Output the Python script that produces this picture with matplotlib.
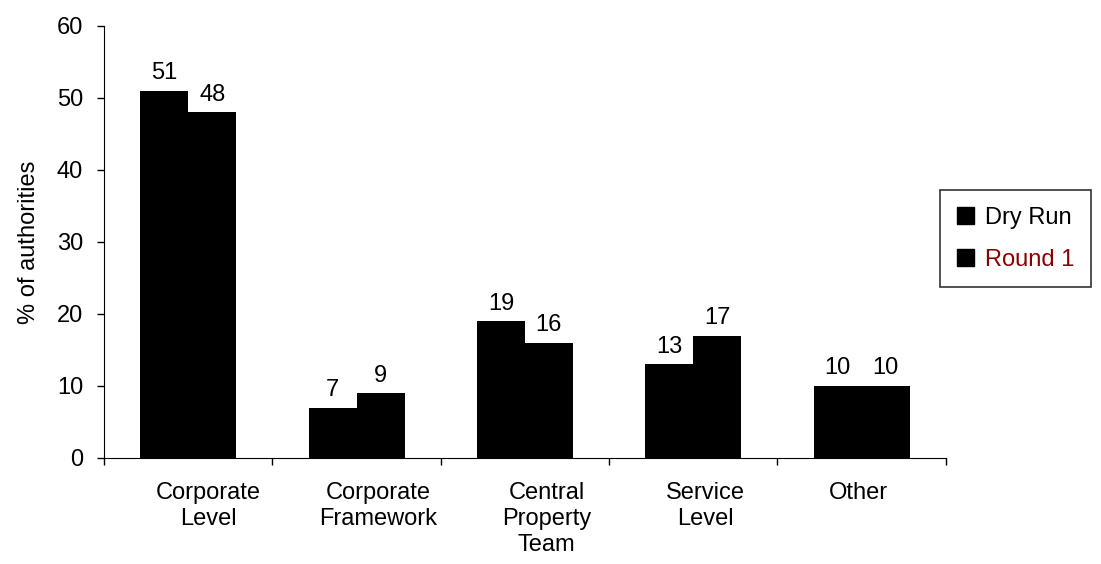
import numpy as np
import matplotlib.pyplot as plt
from matplotlib.patches import Patch

# Data.
Categories = ['Corporate\nLevel', 'Corporate\nFramework', 'Central\nProperty\nTeam',
              'Service\nLevel', 'Other']
DryRun = [51, 7, 19, 13, 10]
Round1 = [48, 9, 16, 17, 10]
SeriesNames = ['Dry Run', 'Round 1']

plt.rcParams['font.family'] = ['Liberation Sans', 'DejaVu Sans']
FontSize = 17

fig = plt.figure(figsize=(11.01, 5.64), dpi=100)
ax = fig.add_axes([0.0945, 0.188, 0.7645, 0.766])

# We draw the bars and their value labels.
x = np.arange(len(Categories))
Width = 0.285
b1 = ax.bar(x - Width / 2, DryRun, Width, color='black')
b2 = ax.bar(x + Width / 2, Round1, Width, color='black')
for bars, vals in [(b1, DryRun), (b2, Round1)]:
    for b, v in zip(bars, vals):
        ax.text(b.get_x() + b.get_width() / 2, v + 1.6, str(v), ha='center',
                va='baseline', fontsize=FontSize)

# We configure the axes (labels sit slightly right of centre, as in the original).
LabelShift = [0.12, 0.13, 0.13, 0.07, -0.02]
ax.set_xlim(-0.5, len(Categories) - 0.5)
ax.set_ylim(0, 60)
ax.set_yticks(range(0, 61, 10))
ax.set_xticks(x + np.array(LabelShift))
ax.set_xticklabels(Categories, fontsize=FontSize, linespacing=1.25, va='top')
ax.set_xticks(np.arange(-0.5, len(Categories)), minor=True)
ax.tick_params(axis='x', which='major', length=0, pad=17)
ax.tick_params(axis='x', which='minor', length=5, direction='out', width=1)
ax.tick_params(axis='y', length=5, direction='out', labelsize=FontSize, width=1, pad=10)
ax.spines['top'].set_visible(False)
ax.spines['right'].set_visible(False)
ax.set_ylabel('% of authorities', fontsize=FontSize, labelpad=12)

# We add the legend.
Handles = [Patch(facecolor='black', edgecolor='black') for _ in SeriesNames]
leg = fig.legend(Handles, SeriesNames, loc='upper left', bbox_to_anchor=(0.854, 0.663),
                 fontsize=FontSize, frameon=True, fancybox=False, handlelength=0.75,
                 handleheight=0.75, handletextpad=0.45, borderpad=0.7, labelspacing=0.85,
                 borderaxespad=0)
leg.get_frame().set_edgecolor('black')
leg.get_frame().set_linewidth(1.2)
leg.get_texts()[1].set_color('#8b0000')

fig.savefig('out.png', dpi=100)
